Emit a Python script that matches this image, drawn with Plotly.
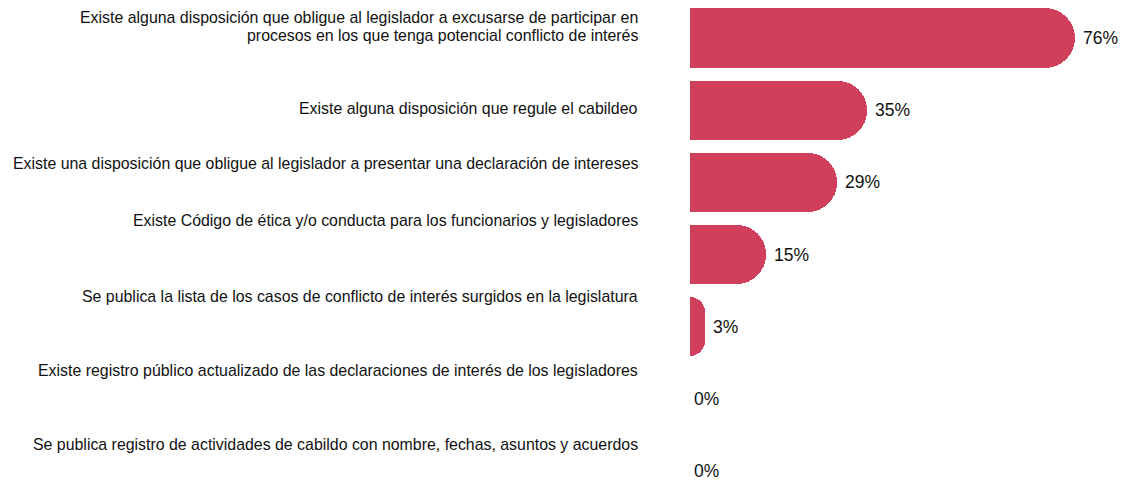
import plotly.graph_objects as go

# Indicadores de conflicto de interés (porcentaje de legislaturas)
categories = [
    "Existe alguna disposición que obligue al legislador a excusarse de participar en<br>procesos en los que tenga potencial conflicto de interés",
    "Existe alguna disposición que regule el cabildeo",
    "Existe una disposición que obligue al legislador a presentar una declaración de intereses",
    "Existe Código de ética y/o conducta para los funcionarios y legisladores",
    "Se publica la lista de los casos de conflicto de interés surgidos en la legislatura",
    "Existe registro público actualizado de las declaraciones de interés de los legisladores",
    "Se publica registro de actividades de cabildo con nombre, fechas, asuntos y acuerdos",
]
values = [76, 35, 29, 15, 3, 0, 0]
value_labels = ["76%", "35%", "29%", "15%", "3%", "0%", "0%"]

BAR_COLOR = "#D0405D"
FONT = "Liberation Sans, Arial, Helvetica, sans-serif"

rows = list(range(len(categories)))

fig = go.Figure(
    go.Bar(
        x=values,
        y=rows,
        orientation="h",
        width=0.82,
        marker=dict(color=BAR_COLOR, cornerradius="50%", line=dict(width=0)),
        hoverinfo="skip",
    )
)

# vertical nudges for the category captions (pixels above the bar centre)
caption_shift = [21, 2, 19, 34, 30, 28, 27]
LINE_STEP = 18  # spacing between wrapped caption lines

annotations = []
for i, (cat, v, lab) in enumerate(zip(categories, values, value_labels)):
    for k, line in enumerate(cat.split("<br>")):
        annotations.append(dict(
            x=0, xref="paper", y=i, yref="y",
            text=line, showarrow=False,
            xanchor="right", yanchor="middle", align="right",
            xshift=-50, yshift=caption_shift[i] - k * LINE_STEP,
            font=dict(family=FONT, size=15.9, color="#111111"),
        ))
    annotations.append(dict(
        x=v, xref="x", y=i, yref="y",
        text=lab, showarrow=False,
        xanchor="left", yanchor="middle",
        xshift=6 if v > 0 else 2,
        font=dict(family=FONT, size=17.5, color="#111111"),
    ))

fig.update_layout(
    width=1125, height=483,
    margin=dict(l=690, r=0, t=0, b=0),
    paper_bgcolor="white", plot_bgcolor="white",
    showlegend=False,
    bargap=0,
    xaxis=dict(range=[0, 85.8], visible=False, fixedrange=True),
    yaxis=dict(range=[6.166, -0.5265], visible=False, fixedrange=True),
    annotations=annotations,
)

fig.write_html("out.html")
